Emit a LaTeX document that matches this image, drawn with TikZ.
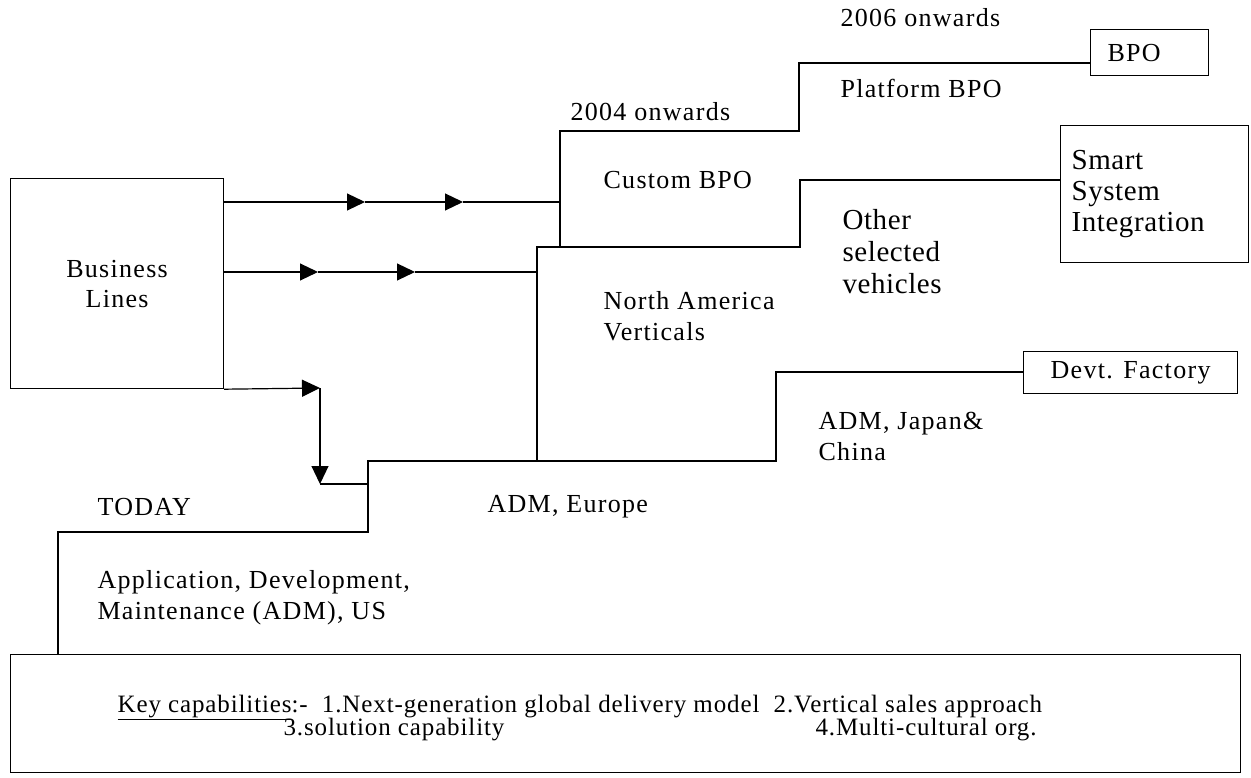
\documentclass[tikz,border=0pt]{standalone}
\usepackage{fontspec}
\setmainfont{Liberation Serif}
\newfontfamily\spaced[LetterSpace=5]{Liberation Serif}
\newfontfamily\lightsp[LetterSpace=2]{Liberation Serif}
\newfontfamily\capsp[LetterSpace=3.5]{Liberation Serif}
\usetikzlibrary{arrows.meta}
\begin{document}
\begin{tikzpicture}[x=1pt,y=-1pt,line width=1.2pt,
  tri/.style={-{Triangle[length=18pt,width=17pt]}},
  lbl/.style={inner sep=0pt,align=left,font=\spaced\fontsize{26}{31}\selectfont},
  big/.style={inner sep=0pt,align=left,font=\lightsp\fontsize{29}{32}\selectfont},
  capline/.style={inner sep=0pt,font=\capsp\fontsize{25}{28}\selectfont},
  box/.style={draw,line width=1.2pt}]
\useasboundingbox (0,0) rectangle (1251,778);

% boxes
\node[box,anchor=north west,minimum width=213pt,minimum height=210pt,inner sep=0pt,align=center,
      font=\spaced\fontsize{26}{30}\selectfont] (bl) at (10,178) {Business\\Lines};
\node[box,anchor=north west,minimum width=118pt,minimum height=46pt,text width=96pt,inner xsep=11pt,inner ysep=0pt,align=left,
      font=\spaced\fontsize{26}{30}\selectfont] (bpo) at (1090,29) {\hspace*{6pt}BPO};
\node[box,anchor=north west,minimum width=188pt,minimum height=137pt,text width=166pt,inner xsep=11pt,inner ysep=0pt,align=left,
      font=\lightsp\fontsize{29}{31}\selectfont] (smart) at (1060,125) {Smart\\System\\Integration\\[12pt]};
\node[box,anchor=north west,minimum width=214pt,minimum height=42pt,inner sep=0pt,
      font=\spaced\fontsize{26}{30}\selectfont] (devt) at (1023,351) {Devt. Factory};
\node[box,anchor=north west,minimum width=1230pt,minimum height=118pt,inner sep=0pt] (kc) at (10,654) {};

% labels
\node[lbl,anchor=west] (l2006) at (840,18) {2006 onwards};
\node[lbl,anchor=west] (lplat) at (840,88) {Platform BPO};
\node[lbl,anchor=west] (l2004) at (570,112) {2004 onwards};
\node[lbl,anchor=west] (lcust) at (603,180) {Custom BPO};
\node[big,anchor=west] (loth) at (842,252) {Other\\selected\\vehicles};
\node[lbl,anchor=west] (lna) at (603,316) {North America\\Verticals};
\node[lbl,anchor=west] (ljap) at (818,436) {ADM, Japan\&\\China};
\node[lbl,anchor=west] (ltoday) at (97,507) {TODAY};
\node[lbl,anchor=west] (leur) at (487,507) {ADM, Europe};
\node[lbl,anchor=west] (lapp) at (97,598) {Application, Development,\\Maintenance (ADM), US};

\node[capline,anchor=base west] (k1) at (117,712) {\underline{Key capabilities}:-\ \ 1.Next-generation global delivery model\ \ 2.Vertical sales approach};
\node[capline,anchor=base west] (k2) at (283,735) {3.solution capability};
\node[capline,anchor=base west] (k3) at (815,735) {4.Multi-cultural org.};

% step coordinates
\coordinate (r1) at (560,202);
\coordinate (r2) at (537,272);
\coordinate (cs1) at (560,247);
\coordinate (cs2) at (560,131);
\coordinate (cs3) at (799,131);
\coordinate (cs4) at (799,63);
\coordinate (na1) at (537,461);
\coordinate (na2) at (537,247);
\coordinate (na3) at (800,247);
\coordinate (na4) at (800,180);
\coordinate (t0) at (58,532);
\coordinate (t1) at (368,532);
\coordinate (t2) at (368,461);
\coordinate (e1) at (776,461);
\coordinate (e2) at (776,372);
\coordinate (a1) at (320,388);
\coordinate (a2) at (320,484);
\coordinate (a3) at (368,484);

% staircase
\draw (kc.north west -| t0) -- (t0) -- (t1) -- (t2) -- (e1) -- (e2) -- (devt.west |- e2);
\draw (na1) -- (na2) -- (na3) -- (na4) -- (smart.west |- na4);
\draw (cs1) -- (cs2) -- (cs3) -- (cs4) -- (bpo.west |- cs4);

% arrows from Business Lines
\draw[tri] (bl.east |- r1) -- (365,202);
\draw[tri] (365,202) -- (463,202);
\draw (463,202) -- (r1);
\draw[tri] (bl.east |- r2) -- (318,272);
\draw[tri] (318,272) -- (415,272);
\draw (415,272) -- (r2);
\draw[tri] (bl.south east) -- (a1);
\draw[tri] (a1) -- (a2);
\draw (a2) -- (a3);
\end{tikzpicture}
\end{document}
